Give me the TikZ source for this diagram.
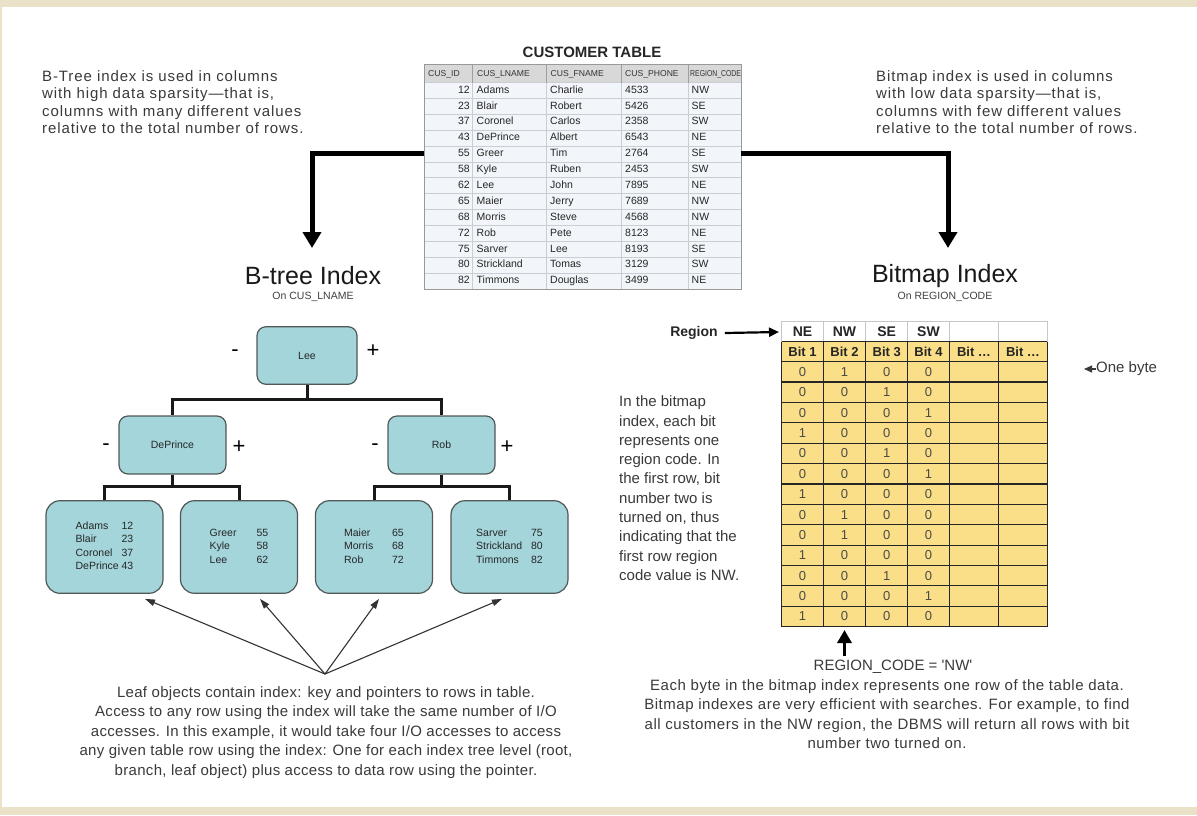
\documentclass[tikz,border=0pt]{standalone}
\usepackage{graphicx}
\usepackage{fontspec}
\setmainfont{Liberation Sans}
\usetikzlibrary{arrows.meta,calc}
\definecolor{framebg}{HTML}{E9E1C8}
\definecolor{boxfill}{HTML}{A3D5DA}
\definecolor{boxline}{HTML}{505858}
\definecolor{bmyellow}{HTML}{FADF88}
\definecolor{txtgray}{HTML}{3A3A3A}
\definecolor{hdrgray}{HTML}{D8D8D8}
\definecolor{rowfill}{HTML}{F2F6FA}
\definecolor{gridgray}{HTML}{C9CED4}
\definecolor{bitgray}{HTML}{4A4A4A}
\newcommand{\fs}[2]{\fontsize{#1}{#2}\selectfont}
\begin{document}
\begin{tikzpicture}[x=1pt,y=-1pt,
  para/.style={font=\fs{15}{19.3}, text=txtgray, inner sep=0pt},
  toppara/.style={font=\fs{15}{17.5}\addfontfeature{LetterSpace=6}, text=txtgray, inner sep=0pt},
  botpara/.style={font=\fs{15}{19.5}\addfontfeature{LetterSpace=2}, text=txtgray, inner sep=0pt},
  treebox/.style={draw=boxline, fill=boxfill, rounded corners=9pt, line width=1.2pt, font=\fs{10.5}{13.5}, text=black!85, inner sep=0pt},
  leafbox/.style={treebox, minimum width=117pt, minimum height=92.6pt, rounded corners=14pt},
  branchbox/.style={treebox, minimum width=107pt, minimum height=58pt},
  conn/.style={line width=3pt, draw=black!90},
  bigarrow/.style={line width=5pt, draw=black, -{Triangle[width=18pt,length=16pt]}},
  ptrarrow/.style={line width=1.1pt, draw=black!80, -{Triangle[width=6.5pt,length=10pt]}},
  sign/.style={font=\fs{22}{22}, inner sep=0pt},
  cell/.style={inner sep=0pt, font=\fs{10.5}{12}, text=black!85, text height=7.5pt, text depth=2pt},
  hcell/.style={inner sep=0pt, font=\fs{8.6}{10}, text=black!80, text height=6.5pt, text depth=1.5pt},
  bit/.style={inner sep=0pt, font=\fs{13}{13}, text=bitgray},
  bithead/.style={inner sep=0pt, font=\bfseries\fs{13}{13}, text=black!85},
  title/.style={inner sep=0pt, font=\fs{25}{25}, text=black!90},
  subtitle/.style={inner sep=0pt, font=\fs{10.5}{12}, text=black!75},
]
\useasboundingbox (0,0) rectangle (1197,815);
\fill[framebg] (0,0) rectangle (1197,815);
\fill[white] (2,7) rectangle (1197,807);

% ---------- top texts ----------
\node[toppara, anchor=north west, align=left] (ltxt) at (42,70) {B-Tree index is used in columns\\with high data sparsity—that is,\\columns with many different values\\relative to the total number of rows.};
\node[toppara, anchor=north west, align=left] (rtxt) at (876,70) {Bitmap index is used in columns\\with low data sparsity—that is,\\columns with few different values\\relative to the total number of rows.};

% ---------- customer table ----------
\node[inner sep=0pt, font=\bfseries\fs{15}{15}, text=black!85] (cttitle) at (592,52.5) {CUSTOMER TABLE};
\fill[hdrgray] (424,64.5) rectangle (741,82.5);
\fill[rowfill] (424,82.5) rectangle (741,289.1);
\foreach \i in {0,...,13} \draw[gridgray, line width=0.8pt] (424,{82.5+\i*15.89}) -- (741,{82.5+\i*15.89});
\foreach \xx in {472.3,546.7,621.7,688} {
  \draw[gray!75, line width=0.8pt] (\xx,64.5) -- (\xx,82.5);
  \draw[gridgray, line width=0.8pt] (\xx,82.5) -- (\xx,289.1);
}
\node[draw=gray!80, line width=0.9pt, inner sep=0pt, minimum width=317pt, minimum height=224.6pt] (ct) at (582.5,176.8) {};
\node[hcell, anchor=west] (h1) at (428,73.5) {CUS\_ID};
\node[hcell, anchor=west] (h2) at (477,73.5) {CUS\_LNAME};
\node[hcell, anchor=west] (h3) at (550.5,73.5) {CUS\_FNAME};
\node[hcell, anchor=west] (h4) at (625,73.5) {CUS\_PHONE};
\node[hcell, anchor=west] (h5) at (690,73.5) {\scalebox{0.8}[1]{REGION\_CODE}};
\foreach \id/\ln/\fn/\ph/\rg [count=\k from 0] in {12/Adams/Charlie/4533/NW, 23/Blair/Robert/5426/SE, 37/Coronel/Carlos/2358/SW, 43/DePrince/Albert/6543/NE, 55/Greer/Tim/2764/SE, 58/Kyle/Ruben/2453/SW, 62/Lee/John/7895/NE, 65/Maier/Jerry/7689/NW, 68/Morris/Steve/4568/NW, 72/Rob/Pete/8123/NE, 75/Sarver/Lee/8193/SE, 80/Strickland/Tomas/3129/SW, 82/Timmons/Douglas/3499/NE}{
  \pgfmathsetmacro\yy{90.45+\k*15.89}
  \node[cell, anchor=east] (cid\k) at (470,\yy) {\id};
  \node[cell, anchor=west] (cln\k) at (476.5,\yy) {\ln};
  \node[cell, anchor=west] (cfn\k) at (550,\yy) {\fn};
  \node[cell, anchor=west] (cph\k) at (625,\yy) {\ph};
  \node[cell, anchor=west] (crg\k) at (691.5,\yy) {\rg};
}

% ---------- big arrows ----------
\coordinate (ctL) at (424,153);
\coordinate (btTip) at (312,248);
\coordinate (ctR) at (741,153);
\coordinate (bmTip) at (948,248);
\draw[bigarrow] (ctL) -| (btTip);
\draw[bigarrow] (ctR) -| (bmTip);

% ---------- titles ----------
\node[title] (btt) at (313,276) {B-tree Index};
\node[subtitle] (bts) at (313,297) {On CUS\_LNAME};
\node[title] (bmt) at (945,276) {Bitmap Index};
\node[subtitle] (bms) at (945,297) {On REGION\_CODE};

% ---------- B-tree ----------
\node[treebox, minimum width=100pt, minimum height=57.6pt] (root) at (307,355.5) {Lee};
\node[branchbox] (dep) at (172.5,445) {DePrince};
\node[branchbox] (rob) at (441.5,445) {Rob};
\node[leafbox] (l1) at (104.5,547) {\begin{tabular}{@{}p{46pt}@{}r@{}}Adams&12\\Blair&23\\Coronel&37\\DePrince&43\end{tabular}};
\node[leafbox] (l2) at (239,547) {\begin{tabular}{@{}p{47pt}@{}r@{}}Greer&55\\Kyle&58\\Lee&62\end{tabular}};
\node[leafbox] (l3) at (374,547) {\begin{tabular}{@{}p{48pt}@{}r@{}}Maier&65\\Morris&68\\Rob&72\end{tabular}};
\node[leafbox] (l4) at (509.5,547) {\begin{tabular}{@{}p{55pt}@{}r@{}}Sarver&75\\Strickland&80\\Timmons&82\end{tabular}};

\coordinate (rj) at (307,399);
\draw[conn] (root.south) -- (rj);
\draw[conn] (dep.north) |- (rj) -| (rob.north);
\coordinate (dj) at (172.5,486);
\draw[conn] (dep.south) -- (dj);
\draw[conn] (l1.north) |- (dj) -| (l2.north);
\coordinate (rbj) at (441.5,486);
\draw[conn] (rob.south) -- (rbj);
\draw[conn] (l3.north) |- (rbj) -| (l4.north);

\node[sign] (rm) at (235,353) {-};
\node[sign] (rp) at (373,351) {+};
\node[sign] (dm) at (106,447) {-};
\node[sign] (dp) at (239,447) {+};
\node[sign] (bm1) at (375,447) {-};
\node[sign] (bp1) at (507,447) {+};

\coordinate (apex) at (325,674);
\foreach \l/\dx in {l1/40.5, l2/21, l3/5, l4/-7.5}
  \draw[ptrarrow] (apex) -- ([xshift=\dx pt, yshift=-5pt]\l.south);

\node[botpara, anchor=north, align=center] (lpara) at (326,686) {Leaf objects contain index: key and pointers to rows in table.\\Access to any row using the index will take the same number of I/O\\accesses. In this example, it would take four I/O accesses to access\\any given table row using the index: One for each index tree level (root,\\branch, leaf object) plus access to data row using the pointer.};

% ---------- bitmap ----------
\fill[bmyellow] (781.7,341.7) rectangle (1047.3,626.7);
\draw[gray!45, line width=0.8pt] (781.7,341.7) -- (781.7,321.7) -- (1047.3,321.7) -- (1047.3,341.7);
\foreach \xx in {823.3,865.7,907.7,949.3,998.7} \draw[gray!45, line width=0.8pt] (\xx,321.7) -- (\xx,341.7);
\draw[black!85, line width=1.2pt] (781.7,341.7) -- (1047.3,341.7);
\foreach \i in {0,...,13} \draw[black!85, line width=1.2pt] (781.7,{361.7+\i*20.38}) -- (1047.3,{361.7+\i*20.38});
\foreach \xx in {781.7,823.3,865.7,907.7,949.3,998.7,1047.3} \draw[black!85, line width=1.2pt] (\xx,341.7) -- (\xx,626.7);
\node[inner sep=0pt, minimum width=265.6pt, minimum height=305pt] (bm) at (914.5,474.2) {};

\foreach \t/\xx [count=\k] in {NE/802.5, NW/844.5, SE/886.7, SW/928.5}
  \node[bithead, font=\bfseries\fs{14}{14}] (hd\k) at (\xx,332) {\t};
\foreach \t/\xx [count=\k] in {Bit 1/802.5, Bit 2/844.5, Bit 3/886.7, Bit 4/928.5, Bit …/974, Bit …/1023}
  \node[bithead] (bh\k) at (\xx,352) {\t};
\foreach \a/\b/\c/\d [count=\k from 0] in {0/1/0/0, 0/0/1/0, 0/0/0/1, 1/0/0/0, 0/0/1/0, 0/0/0/1, 1/0/0/0, 0/1/0/0, 0/1/0/0, 1/0/0/0, 0/0/1/0, 0/0/0/1, 1/0/0/0}{
  \pgfmathsetmacro\yy{371.9+\k*20.38}
  \node[bit] (ba\k) at (802.5,\yy) {\a};
  \node[bit] (bb\k) at (844.5,\yy) {\b};
  \node[bit] (bc\k) at (886.7,\yy) {\c};
  \node[bit] (bd\k) at (928.5,\yy) {\d};
}

\node[inner sep=0pt, font=\bfseries\fs{14}{14}, text=black!85] (reg) at (694,333) {Region};
\coordinate (bmHdr) at (779,332);
\draw[line width=2.2pt, -{Triangle[width=9pt,length=10pt]}] (reg.east) ++(7,0) -- (bmHdr);

\node[inner sep=0pt, anchor=west, font=\fs{15}{15}, text=txtgray] (ob) at (1096,369) {One byte};
\coordinate (obTip) at (1084,369);
\draw[line width=1.1pt, draw=txtgray, -{Triangle[width=7pt,length=8pt]}] (ob.west) -- (obTip);

\node[para, anchor=north west, align=left] (bmtxt) at (619,395.7) {In the bitmap\\index, each bit\\represents one\\region code. In\\the first row, bit\\number two is\\turned on, thus\\indicating that the\\first row region\\code value is NW.};

\coordinate (nwTip) at (844.5,630);
\node[para] (rc) at (893,666.5) {REGION\_CODE = \textquotesingle NW\textquotesingle};
\coordinate (nwTail) at (844.5,656);
\draw[line width=3.5pt, -{Triangle[width=14pt,length=13pt]}] (nwTail) -- (nwTip);

\node[botpara, anchor=north, align=center, font=\fs{15}{19.5}\addfontfeature{LetterSpace=3.5}] (rpara) at (887,679) {Each byte in the bitmap index represents one row of the table data.\\Bitmap indexes are very efficient with searches. For example, to find\\all customers in the NW region, the DBMS will return all rows with bit\\number two turned on.};
\end{tikzpicture}
\end{document}
